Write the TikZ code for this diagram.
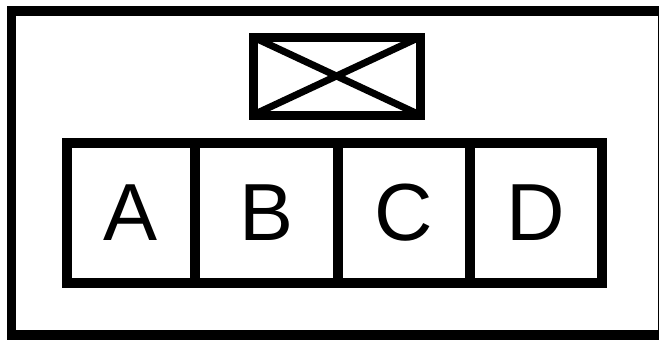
\documentclass[tikz,border=0pt]{standalone}
\usepackage{fontspec}
\setmainfont{Liberation Sans}
\usetikzlibrary{positioning}
\tikzset{
  frame/.style={draw=black, line width=9.5pt},
  cell/.style={draw=black, line width=9.5pt, outer sep=0pt, inner sep=0pt,
    minimum height=140pt, font=\fontsize{81}{81}\selectfont},
  lamp/.style={draw=black, line width=9pt, outer sep=0pt, inner sep=0pt,
    minimum width=167pt, minimum height=78pt},
}
\begin{document}
\begin{tikzpicture}[x=1pt,y=-1pt]
  \useasboundingbox (0,0) rectangle (659,341);
  \clip (0,0) rectangle (659,341);

  % Outer frame, cut off at the right edge.
  \draw[frame] (11.5,11) rectangle (662.5,335);

  % Crossed box on top.
  \node[lamp] (lamp) at (336.5,76) {};
  \draw[line width=7pt] (lamp.north west) -- (lamp.south east);
  \draw[line width=7pt] (lamp.south west) -- (lamp.north east);

  % Row of four lettered cells.
  \node[cell, minimum width=128pt] (A) at (131,213) {A};
  \node[cell, minimum width=143pt, right=0pt of A] (B) {B};
  \node[cell, minimum width=132pt, right=0pt of B] (C) {C};
  \node[cell, minimum width=132pt, right=0pt of C] (D) {D};
\end{tikzpicture}
\end{document}
